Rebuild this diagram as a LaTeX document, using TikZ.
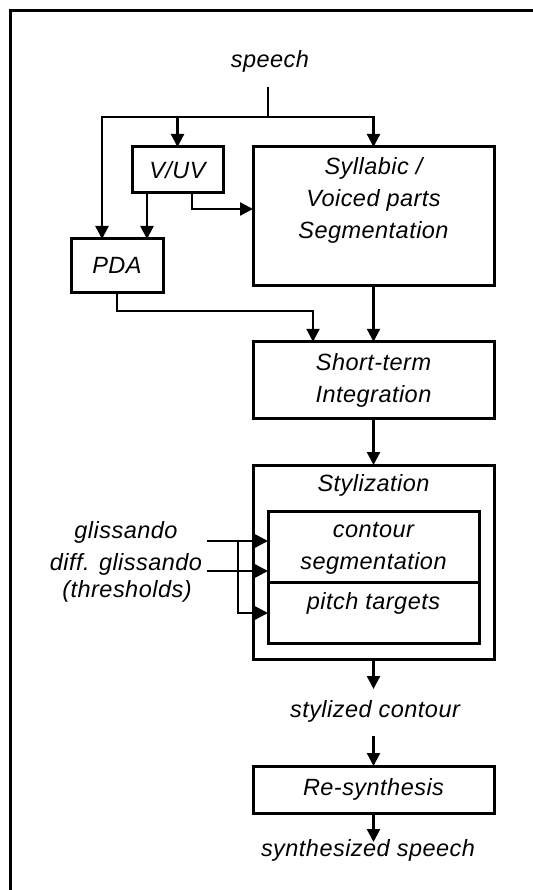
\documentclass[tikz,border=0pt]{standalone}
\usepackage{fontspec}
\setmainfont{Liberation Sans}[LetterSpace=2]
\usetikzlibrary{arrows.meta}
\begin{document}
\begin{tikzpicture}[x=1pt,y=-1pt,
  every node/.style={font=\fontsize{23.5}{32}\selectfont\itshape, inner sep=0pt, outer sep=0pt},
  box/.style={draw, line width=3pt},
  conn/.style={line width=2.3pt},
  arr/.style={conn, -{Triangle[length=13pt,width=13pt]}}]
\useasboundingbox (0,0) rectangle (532,890);
\draw[line width=3pt] (10,892) -- (10,11) -- (534,11);

% nodes
\node (speech) at (270,61) {speech};
\node[box, minimum width=91pt, minimum height=46pt] (vuv) at (177.5,170) {V/UV};
\node[box, minimum width=241pt, minimum height=138pt] (syl) at (373.5,216) {};
\node[align=center] (syltxt) at (373.5,200) {Syllabic /\\Voiced parts\\Segmentation};
\node[box, minimum width=92pt, minimum height=53pt] (pda) at (117,265.5) {PDA};
\node[box, minimum width=241pt, minimum height=76.5pt, align=center] (st) at (373.5,380) {Short-term\\Integration};
\node[box, minimum width=241pt, minimum height=194pt] (styl) at (373.5,562) {};
\node (stylt) at (373.5,485) {Stylization};
\node[box, minimum width=211pt, minimum height=132pt] (inner) at (373.5,577) {};
\coordinate (dv) at (373.5,582);
\draw[box] (inner.west |- dv) -- (inner.east |- dv);
\node[align=center] (cseg) at (373.5,548) {contour\\segmentation};
\node (pt) at (373.5,603) {pitch targets};
\node (gl) at (126,532) {glissando};
\node (dgl) at (126,564) {diff. glissando};
\node (thr) at (127,591) {(thresholds)};
\node (sc) at (375,711) {stylized contour};
\node[box, minimum width=241pt, minimum height=47pt] (res) at (373.5,789.5) {Re-synthesis};
\node (ss) at (368,850) {synthesized speech};

% connectors
\coordinate (s0) at (268,87);
\coordinate (split) at (268,117);
\draw[conn] (s0) -- (split);
\draw[arr] (split) -| ([xshift=-15pt]pda.north);
\draw[arr] (split) -| (vuv.north);
\draw[arr] (split) -| (syl.north);
\draw[arr] ([xshift=-30.5pt]vuv.south) -- ([xshift=-30.5pt]vuv.south |- pda.north);
\draw[arr] ([xshift=14.5pt]vuv.south) |- ([yshift=7pt]syl.west);
\draw[arr] (pda.south) -- ++(0,19) -| ([xshift=-60.5pt]st.north);
\draw[arr] (syl.south) -- (st.north);
\draw[arr] (st.south) -- (styl.north);
\coordinate (g1) at (207,541);
\coordinate (g2) at (207,571);
\coordinate (gv) at (238,541);
\coordinate (g3) at (238,613);
\draw[arr] (g1) -- (g1 -| inner.west);
\draw[arr] (g2) -- (g2 -| inner.west);
\draw[arr] (gv) |- (g3 -| inner.west);
\draw[arr] (styl.south) -- ++(0,30);
\coordinate (scb) at (373.5,736);
\draw[arr] (scb) -- (res.north);
\draw[arr] (res.south) -- ++(0,29);
\end{tikzpicture}
\end{document}
